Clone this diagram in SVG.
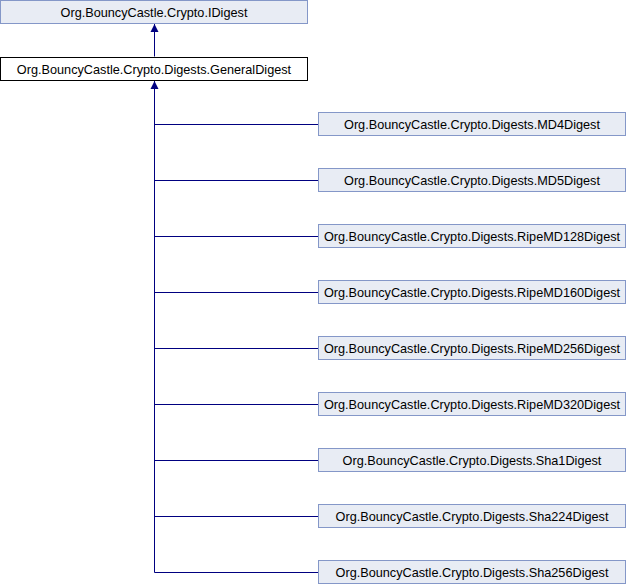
<svg xmlns="http://www.w3.org/2000/svg" width="626" height="584" viewBox="0 0 626 584">
<style>
.n rect{fill:#e8ecf4;stroke:#8497c8;stroke-width:1}
.n.w rect{fill:#ffffff;stroke:#000000}
.n text{font-family:"Liberation Sans",Arial,sans-serif;font-size:12.7px;fill:#000;text-anchor:middle}
.e{stroke:#000080;stroke-width:1;fill:none}
</style>
<defs>
<marker id="ah" markerWidth="8" markerHeight="10" refX="8" refY="4" orient="auto" markerUnits="userSpaceOnUse" viewBox="0 0 8 8">
<path d="M0,0 L8,4 L0,8 Z" fill="#000080"/>
</marker>
</defs>
<g id="connectors">
<path class="e" d="M154.5,56.5 V24" marker-end="url(#ah)"/>
<path class="e" d="M154.5,572.5 V81" marker-end="url(#ah)"/>
<path class="e" d="M154.5,124.5 H318"/>
<path class="e" d="M154.5,180.5 H318"/>
<path class="e" d="M154.5,236.5 H318"/>
<path class="e" d="M154.5,292.5 H318"/>
<path class="e" d="M154.5,348.5 H318"/>
<path class="e" d="M154.5,404.5 H318"/>
<path class="e" d="M154.5,460.5 H318"/>
<path class="e" d="M154.5,516.5 H318"/>
<path class="e" d="M154.5,572.5 H318"/>
</g>
<g id="IDigest" class="n"><rect x="0.5" y="0.5" width="307" height="23"/><text x="154" y="16.5">Org.BouncyCastle.Crypto.IDigest</text></g>
<g id="GeneralDigest" class="n w"><rect x="0.5" y="57.5" width="307" height="23"/><text x="154" y="73.5">Org.BouncyCastle.Crypto.Digests.GeneralDigest</text></g>
<g id="MD4Digest" class="n"><rect x="318.5" y="112.5" width="307" height="23"/><text x="472" y="128.5">Org.BouncyCastle.Crypto.Digests.MD4Digest</text></g>
<g id="MD5Digest" class="n"><rect x="318.5" y="168.5" width="307" height="23"/><text x="472" y="184.5">Org.BouncyCastle.Crypto.Digests.MD5Digest</text></g>
<g id="RipeMD128Digest" class="n"><rect x="318.5" y="224.5" width="307" height="23"/><text x="472" y="240.5">Org.BouncyCastle.Crypto.Digests.RipeMD128Digest</text></g>
<g id="RipeMD160Digest" class="n"><rect x="318.5" y="280.5" width="307" height="23"/><text x="472" y="296.5">Org.BouncyCastle.Crypto.Digests.RipeMD160Digest</text></g>
<g id="RipeMD256Digest" class="n"><rect x="318.5" y="336.5" width="307" height="23"/><text x="472" y="352.5">Org.BouncyCastle.Crypto.Digests.RipeMD256Digest</text></g>
<g id="RipeMD320Digest" class="n"><rect x="318.5" y="392.5" width="307" height="23"/><text x="472" y="408.5">Org.BouncyCastle.Crypto.Digests.RipeMD320Digest</text></g>
<g id="Sha1Digest" class="n"><rect x="318.5" y="448.5" width="307" height="23"/><text x="472" y="464.5">Org.BouncyCastle.Crypto.Digests.Sha1Digest</text></g>
<g id="Sha224Digest" class="n"><rect x="318.5" y="504.5" width="307" height="23"/><text x="472" y="520.5">Org.BouncyCastle.Crypto.Digests.Sha224Digest</text></g>
<g id="Sha256Digest" class="n"><rect x="318.5" y="560.5" width="307" height="23"/><text x="472" y="576.5">Org.BouncyCastle.Crypto.Digests.Sha256Digest</text></g>
</svg>
